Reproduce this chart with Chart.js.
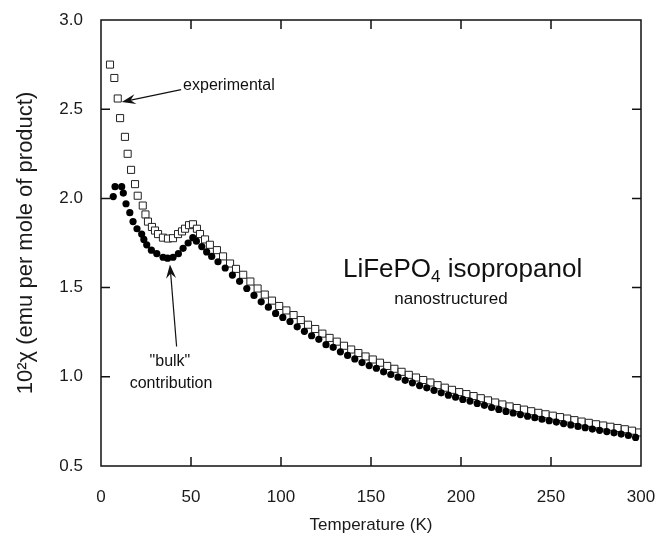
<!DOCTYPE html>
<html>
<head>
<meta charset="utf-8">
<script src="https://cdn.jsdelivr.net/npm/chart.js@4.4.1/dist/chart.umd.min.js"></script>
<style>
  html, body { margin: 0; padding: 0; background: #fff; }
  canvas { display: block; }
</style>
</head>
<body>
<canvas id="grafico" width="655" height="541"></canvas>
<script>
// temperaturas (K) y susceptibilidad (10^2 chi)
const expT = [5, 7.4, 9.3, 10.6, 13.3, 14.8, 16.7, 18.9, 20.4, 23.2, 24.7, 26.1, 28.3, 30, 31.7, 34.4, 37.2, 40, 42.8, 45,
    46.7, 48.9, 51.1, 53.3, 55, 57.8, 60.5, 64.4, 67.8, 71.7, 75,
    79, 83, 87, 91, 95, 99, 103, 107, 111, 115, 119, 123, 127, 131, 135, 139, 143, 147, 151, 155,
    159, 163, 167, 171, 175, 179, 183, 187, 191, 195, 199, 203, 207, 211, 215, 219, 223, 227, 231, 235,
    239, 243, 247, 251, 255, 259, 263, 267, 271, 275, 279, 283, 287, 291, 295, 299];
const expChi = [2.75, 2.675, 2.56, 2.45, 2.345, 2.25, 2.16, 2.08, 2.015, 1.96, 1.91, 1.87, 1.84, 1.82, 1.80, 1.78, 1.775, 1.777, 1.80, 1.815,
    1.83, 1.85, 1.855, 1.83, 1.80, 1.77, 1.74, 1.71, 1.675, 1.635, 1.605,
    1.572, 1.534, 1.495, 1.461, 1.427, 1.397, 1.372, 1.346, 1.318, 1.292, 1.268, 1.242, 1.218, 1.197, 1.174, 1.153, 1.133, 1.114, 1.097, 1.079,
    1.061, 1.045, 1.028, 1.011, 0.996, 0.982, 0.968, 0.953, 0.939, 0.927, 0.914, 0.903, 0.892, 0.880, 0.868, 0.856, 0.845, 0.834, 0.825, 0.816,
    0.807, 0.798, 0.790, 0.782, 0.774, 0.766, 0.757, 0.749, 0.742, 0.734, 0.727, 0.720, 0.713, 0.706, 0.698, 0.688];

const bulkT = [6.8, 7.8, 11.5, 12.4, 13.9, 16, 17.8, 20, 22.6, 23.8, 25.4, 28, 31, 34.5, 37, 40, 43, 45.6, 48.4, 51,
    53, 56, 58.7, 61.5, 65, 69,
    73, 77, 81, 85, 89, 93, 97, 101, 105, 109, 113, 117, 121, 125, 129, 133, 137, 141, 145, 149,
    153, 157, 161, 165, 169, 173, 177, 181, 185, 189, 193, 197, 201, 205, 209, 213, 217, 221, 225, 229,
    233, 237, 241, 245, 249, 253, 257, 261, 265, 269, 273, 277, 281, 285, 289, 293, 297];
const bulkChi = [2.01, 2.066, 2.066, 2.03, 1.97, 1.92, 1.87, 1.83, 1.80, 1.77, 1.74, 1.71, 1.69, 1.67, 1.665, 1.67, 1.69, 1.72, 1.75, 1.78,
    1.76, 1.73, 1.70, 1.675, 1.645, 1.61,
    1.57, 1.535, 1.495, 1.456, 1.42, 1.39, 1.355, 1.333, 1.31, 1.28, 1.255, 1.23, 1.21, 1.18, 1.165, 1.14, 1.12, 1.10, 1.08, 1.063,
    1.048, 1.028, 1.013, 0.998, 0.98, 0.966, 0.951, 0.938, 0.924, 0.91, 0.897, 0.886, 0.873, 0.864, 0.851, 0.84, 0.828, 0.817, 0.806, 0.797,
    0.788, 0.779, 0.771, 0.762, 0.754, 0.746, 0.738, 0.730, 0.722, 0.715, 0.707, 0.700, 0.693, 0.686, 0.679, 0.671, 0.660];

const xTicks = [0, 50, 100, 150, 200, 250, 300];
const yTicks = [0.5, 1.0, 1.5, 2.0, 2.5, 3.0];

const FONT = '"Liberation Sans", Arial, sans-serif';

// marco, ticks hacia adentro y anotaciones
const decoracion = {
    id: 'decoracion',
    afterDraw(chart) {
        const ctx = chart.ctx;
        const a = chart.chartArea;
        const x = chart.scales.x, y = chart.scales.y;
        ctx.save();
        ctx.strokeStyle = '#111';
        ctx.lineWidth = 1.5;
        ctx.strokeRect(a.left, a.top, a.right - a.left, a.bottom - a.top);

        xTicks.slice(1, -1).forEach(v => {
            const px = x.getPixelForValue(v);
            ctx.beginPath();
            ctx.moveTo(px, a.bottom); ctx.lineTo(px, a.bottom - 9);
            ctx.moveTo(px, a.top); ctx.lineTo(px, a.top + 9);
            ctx.stroke();
        });
        yTicks.slice(1, -1).forEach(v => {
            const py = y.getPixelForValue(v);
            ctx.beginPath();
            ctx.moveTo(a.left, py); ctx.lineTo(a.left + 9, py);
            ctx.moveTo(a.right, py); ctx.lineTo(a.right - 9, py);
            ctx.stroke();
        });

        // flechas
        function flecha(t0, c0, t1, c1) {
            const x0 = x.getPixelForValue(t0), y0 = y.getPixelForValue(c0);
            const x1 = x.getPixelForValue(t1), y1 = y.getPixelForValue(c1);
            const ang = Math.atan2(y1 - y0, x1 - x0);
            ctx.strokeStyle = '#111';
            ctx.fillStyle = '#111';
            ctx.lineWidth = 1.2;
            ctx.beginPath();
            ctx.moveTo(x0, y0);
            ctx.lineTo(x1 - 8 * Math.cos(ang), y1 - 8 * Math.sin(ang));
            ctx.stroke();
            ctx.beginPath();
            ctx.moveTo(x1, y1);
            ctx.lineTo(x1 - 14 * Math.cos(ang) + 5 * Math.sin(ang), y1 - 14 * Math.sin(ang) - 5 * Math.cos(ang));
            ctx.lineTo(x1 - 9 * Math.cos(ang), y1 - 9 * Math.sin(ang));
            ctx.lineTo(x1 - 14 * Math.cos(ang) - 5 * Math.sin(ang), y1 - 14 * Math.sin(ang) + 5 * Math.cos(ang));
            ctx.closePath();
            ctx.fill();
        }
        flecha(44.5, 2.61, 11.5, 2.54);
        flecha(42, 1.17, 38.3, 1.63);

        ctx.fillStyle = '#111';
        ctx.textBaseline = 'middle';
        ctx.font = '16px ' + FONT;
        ctx.textAlign = 'left';
        ctx.fillText('experimental', x.getPixelForValue(45.6), y.getPixelForValue(2.63));
        ctx.textAlign = 'center';
        ctx.fillText('"bulk"', x.getPixelForValue(38.3), y.getPixelForValue(1.087));
        ctx.fillText('contribution', x.getPixelForValue(38.9), y.getPixelForValue(0.964));

        // LiFePO4 isopropanol
        let px = x.getPixelForValue(134.4);
        const py = y.getPixelForValue(1.60);
        ctx.textAlign = 'left';
        ctx.font = '26px ' + FONT;
        ctx.fillText('LiFePO', px, py);
        px += ctx.measureText('LiFePO').width;
        ctx.font = '17px ' + FONT;
        ctx.fillText('4', px, py + 8);
        px += ctx.measureText('4').width;
        ctx.font = '26px ' + FONT;
        ctx.fillText(' isopropanol', px, py);

        ctx.font = '17px ' + FONT;
        ctx.textAlign = 'center';
        ctx.fillText('nanostructured', x.getPixelForValue(194.4), y.getPixelForValue(1.434));
        ctx.restore();
    }
};

const ctx = document.getElementById('grafico').getContext('2d');
const grafico = new Chart(ctx, {
    type: 'scatter',
    data: {
        datasets: [{
            label: 'bulk contribution',
            data: bulkT.map((t, i) => ({ x: t, y: bulkChi[i] })),
            pointStyle: 'circle',
            pointRadius: 3.6,
            backgroundColor: '#000',
            borderColor: '#000',
            borderWidth: 0,
            order: 0
        }, {
            label: 'experimental',
            data: expT.map((t, i) => ({ x: t, y: expChi[i] })),
            pointStyle: 'rect',
            pointRadius: 5,
            backgroundColor: '#fff',
            borderColor: '#222',
            borderWidth: 1,
            order: 1
        }]
    },
    options: {
        responsive: false,
        animation: false,
        layout: { padding: { top: 20, right: 14, left: 0, bottom: 0 } },
        plugins: {
            legend: { display: false },
            tooltip: { enabled: false }
        },
        scales: {
            x: {
                type: 'linear',
                min: 0, max: 300,
                afterFit: s => { s.height = 75; s.paddingLeft = 0; s.paddingRight = 0; },
                afterBuildTicks: s => { s.ticks = xTicks.map(v => ({ value: v })); },
                grid: { display: false, drawTicks: false },
                border: { display: false },
                ticks: { padding: 21, color: '#1a1a1a', font: { family: FONT, size: 17 } },
                title: {
                    display: true,
                    text: 'Temperature (K)',
                    color: '#1a1a1a',
                    font: { family: FONT, size: 17 },
                    padding: { top: 0, bottom: 5 }
                }
            },
            y: {
                type: 'linear',
                min: 0.5, max: 3.0,
                afterFit: s => { s.width = 101; s.paddingTop = 0; s.paddingBottom = 0; },
                afterBuildTicks: s => { s.ticks = yTicks.map(v => ({ value: v })); },
                grid: { display: false, drawTicks: false },
                border: { display: false },
                ticks: {
                    padding: 18, color: '#1a1a1a', font: { family: FONT, size: 17 },
                    callback: v => v.toFixed(1)
                },
                title: {
                    display: true,
                    text: '10²χ (emu per mole of product)',
                    color: '#1a1a1a',
                    font: { family: FONT, size: 22 },
                    padding: { top: 13, bottom: 0 }
                }
            }
        }
    },
    plugins: [decoracion]
});
</script>
</body>
</html>
